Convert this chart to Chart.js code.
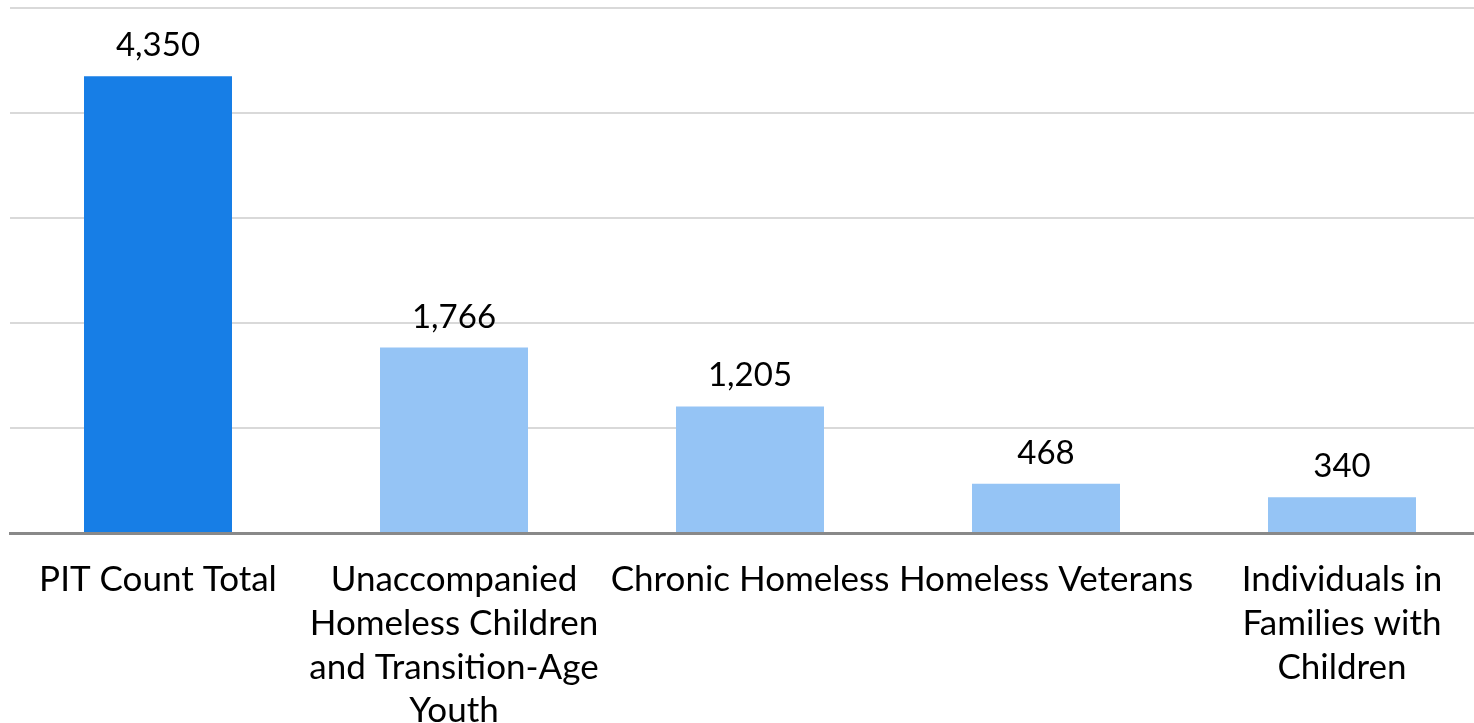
<!doctype html>
<html>

<head>
    <title>PIT Count</title>
    <script src="https://cdn.jsdelivr.net/npm/chart.js"></script>
    <style>
        body { margin: 0; overflow: hidden; background: #fff; }
    </style>
</head>

<body>
    <canvas id="grafico" width="1490" height="723"></canvas>

    <script>
        var categorias = [
            'PIT Count Total',
            ['Unaccompanied', 'Homeless Children', 'and Transition-Age', 'Youth'],
            'Chronic Homeless',
            'Homeless Veterans',
            ['Individuals in', 'Families with', 'Children']
        ];
        var valores = [4350, 1766, 1205, 468, 340];
        var cores = ['#177ee6', '#95c4f5', '#95c4f5', '#95c4f5', '#95c4f5'];

        var fonte = 'Lato, "Open Sans", sans-serif';

        var rotulos = {
            id: 'rotulos',
            afterDatasetsDraw(chart) {
                var ctx = chart.ctx;
                var meta = chart.getDatasetMeta(0);
                ctx.save();
                ctx.font = '33px ' + fonte;
                ctx.fillStyle = '#000';
                ctx.textAlign = 'center';
                ctx.textBaseline = 'alphabetic';
                meta.data.forEach((barra, i) => {
                    ctx.fillText(valores[i].toLocaleString('en-US'), barra.x, barra.y - 20);
                });
                ctx.restore();
            }
        };

        new Chart(document.getElementById('grafico').getContext('2d'), {
            type: 'bar',
            data: {
                labels: categorias,
                datasets: [{
                    data: valores,
                    backgroundColor: cores,
                    barPercentage: 0.5,
                    categoryPercentage: 1
                }]
            },
            options: {
                responsive: false,
                animation: false,
                devicePixelRatio: 1,
                layout: { padding: { top: 8, left: 0, right: 0, bottom: 0 } },
                plugins: { legend: { display: false }, tooltip: { enabled: false } },
                scales: {
                    x: {
                        grid: { display: false },
                        border: { display: true, color: '#898989', width: 3 },
                        ticks: {
                            color: '#000',
                            padding: 17,
                            maxRotation: 0,
                            autoSkip: false,
                            font: { family: fonte, size: 35, lineHeight: 1.25 }
                        },
                        afterFit(scale) { scale.height = 190; }
                    },
                    y: {
                        min: 0,
                        max: 5000,
                        ticks: { display: false, stepSize: 1000 },
                        border: { display: false },
                        grid: {
                            color: (c) => c.tick && c.tick.value === 0 ? 'rgba(0,0,0,0)' : '#d9d9d9',
                            lineWidth: 2,
                            drawTicks: false
                        },
                        afterFit(scale) { scale.width = 10; }
                    }
                }
            },
            plugins: [rotulos]
        });
    </script>
</body>

</html>
